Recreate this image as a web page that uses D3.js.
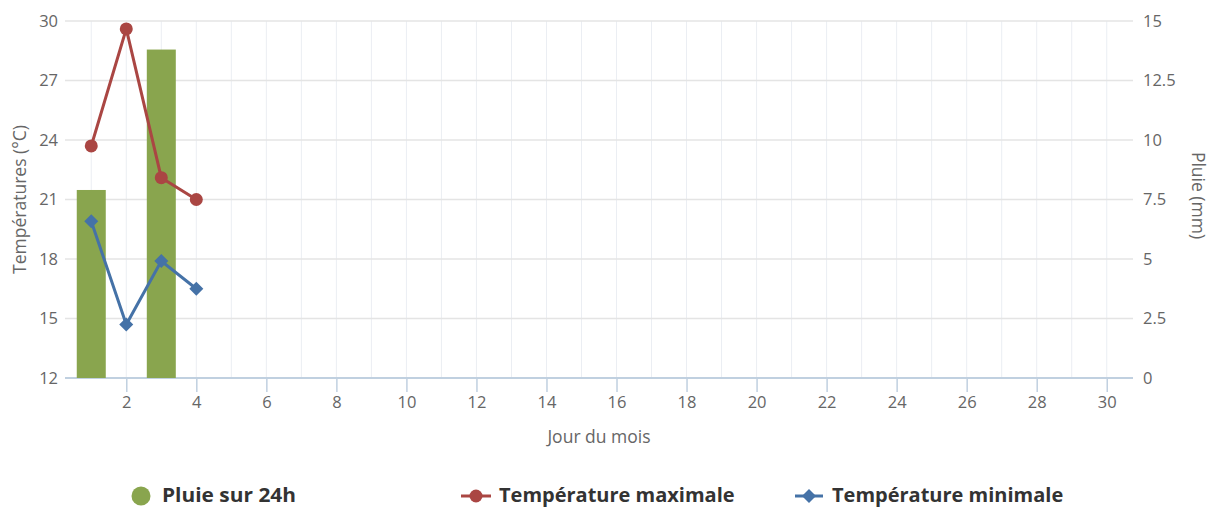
<!DOCTYPE html>
<html><head><meta charset="utf-8">
<script src="https://cdn.jsdelivr.net/npm/d3@7"></script>
<style>
body{margin:0;background:#fff;}
text{font-family:"Open Sans",sans-serif;}
</style></head>
<body><svg id="c" width="1215" height="508"></svg>
<script>
const days = [1, 2, 3, 4];
const rain = [7.9, 0, 13.8, 0];
const tMax = [23.7, 29.6, 22.1, 21.0];
const tMin = [19.9, 14.7, 17.9, 16.5];
const leftTicks = [12, 15, 18, 21, 24, 27, 30];
const rightTicks = [0, 2.5, 5, 7.5, 10, 12.5, 15];
const xTicks = d3.range(2, 31, 2);
const gridDays = d3.range(1, 31);
const seriesNames = ["Pluie sur 24h", "Température maximale", "Température minimale"];
const colors = {rain: "#89A54E", max: "#AA4643", min: "#4572A7"};

const svg = d3.select("#c");
const L = 65, R = 1133, T = 21, B = 378;
const x = d3.scaleLinear().domain([0.25, 30.75]).range([L, R]);
const yL = d3.scaleLinear().domain([12, 30]).range([B, T]);
const yR = d3.scaleLinear().domain([0, 15]).range([B, T]);

// vertical grid
svg.append("g").selectAll("line").data(gridDays).join("line")
  .attr("x1", d => x(d)).attr("x2", d => x(d)).attr("y1", T).attr("y2", B)
  .attr("stroke", "#ebeef3").attr("stroke-width", 1);
// horizontal grid
svg.append("g").selectAll("line").data(leftTicks).join("line")
  .attr("x1", L).attr("x2", R).attr("y1", d => yL(d)).attr("y2", d => yL(d))
  .attr("stroke", "#e4e4e4").attr("stroke-width", 1.5);

// left axis
const gl = svg.append("g").attr("transform", `translate(${L},0)`)
  .call(d3.axisLeft(yL).tickValues(leftTicks).tickSize(0).tickPadding(7));
gl.select(".domain").remove();
gl.selectAll("text").attr("font-size", 16.5).attr("fill", "#666").attr("font-family", "Open Sans");
// right axis
const gr = svg.append("g").attr("transform", `translate(${R},0)`)
  .call(d3.axisRight(yR).tickValues(rightTicks).tickSize(0).tickPadding(10).tickFormat(d => String(d)));
gr.select(".domain").remove();
gr.selectAll("text").attr("font-size", 16.5).attr("fill", "#666").attr("font-family", "Open Sans");
// bottom axis
const gb = svg.append("g").attr("transform", `translate(0,${B})`)
  .call(d3.axisBottom(x).tickValues(xTicks).tickSize(14).tickPadding(4).tickFormat(d3.format("d")));
gb.select(".domain").attr("d", `M${L},0H${R}`).attr("stroke", "#C0D0E0").attr("stroke-width", 2);
gb.selectAll(".tick line").attr("stroke", "#C0D0E0").attr("stroke-width", 1.5);
gb.selectAll("text").attr("font-size", 16.5).attr("fill", "#666").attr("font-family", "Open Sans");

// titles
svg.append("text").attr("transform", `translate(26,${(T + B) / 2}) rotate(-90)`)
  .attr("text-anchor", "middle").attr("font-size", 17.5).attr("fill", "#666").text("Températures (°C)");
svg.append("text").attr("transform", `translate(1192,${(T + B) / 2 - 4}) rotate(90)`)
  .attr("text-anchor", "middle").attr("font-size", 17.5).attr("fill", "#666").text("Pluie (mm)");
svg.append("text").attr("x", (L + R) / 2).attr("y", 443)
  .attr("text-anchor", "middle").attr("font-size", 17.5).attr("fill", "#666").text("Jour du mois");

// bars
const bw = 29;
svg.append("g").selectAll("rect").data(days.map((d, i) => ({d, v: rain[i]})).filter(o => o.v > 0)).join("rect")
  .attr("x", o => x(o.d) - bw / 2).attr("width", bw)
  .attr("y", o => yR(o.v)).attr("height", o => B - yR(o.v))
  .attr("fill", colors.rain);

// lines
const line = d3.line().x(p => x(p[0]));
svg.append("path").datum(days.map((d, i) => [d, tMax[i]]))
  .attr("d", line.y(p => yL(p[1]))).attr("fill", "none").attr("stroke", colors.max).attr("stroke-width", 3);
svg.append("g").selectAll("circle").data(days.map((d, i) => [d, tMax[i]])).join("circle")
  .attr("cx", p => x(p[0])).attr("cy", p => yL(p[1])).attr("r", 6.5).attr("fill", colors.max);

svg.append("path").datum(days.map((d, i) => [d, tMin[i]]))
  .attr("d", d3.line().x(p => x(p[0])).y(p => yL(p[1]))).attr("fill", "none").attr("stroke", colors.min).attr("stroke-width", 3);
const diamond = s => `M0,${-s}L${s},0L0,${s}L${-s},0Z`;
svg.append("g").selectAll("path").data(days.map((d, i) => [d, tMin[i]])).join("path")
  .attr("transform", p => `translate(${x(p[0])},${yL(p[1])})`).attr("d", diamond(7)).attr("fill", colors.min);

// legend
const lg = svg.append("g");
const ly = 496;
const fs = 20;
lg.append("circle").attr("cx", 141).attr("cy", ly).attr("r", 9.5).attr("fill", colors.rain);
lg.append("text").attr("x", 162).attr("y", ly + 6).attr("font-size", fs).attr("font-weight", "bold").attr("fill", "#333")
  .attr("textLength", 134).attr("lengthAdjust", "spacingAndGlyphs").text(seriesNames[0]);
lg.append("line").attr("x1", 461).attr("x2", 491).attr("y1", ly).attr("y2", ly).attr("stroke", colors.max).attr("stroke-width", 3);
lg.append("circle").attr("cx", 476).attr("cy", ly).attr("r", 6.5).attr("fill", colors.max);
lg.append("text").attr("x", 499).attr("y", ly + 6).attr("font-size", fs).attr("font-weight", "bold").attr("fill", "#333").text(seriesNames[1]);
lg.append("line").attr("x1", 795).attr("x2", 823).attr("y1", ly).attr("y2", ly).attr("stroke", colors.min).attr("stroke-width", 3);
lg.append("path").attr("transform", `translate(809,${ly})`).attr("d", diamond(7)).attr("fill", colors.min);
lg.append("text").attr("x", 832).attr("y", ly + 6).attr("font-size", fs).attr("font-weight", "bold").attr("fill", "#333").text(seriesNames[2]);
</script></body></html>
